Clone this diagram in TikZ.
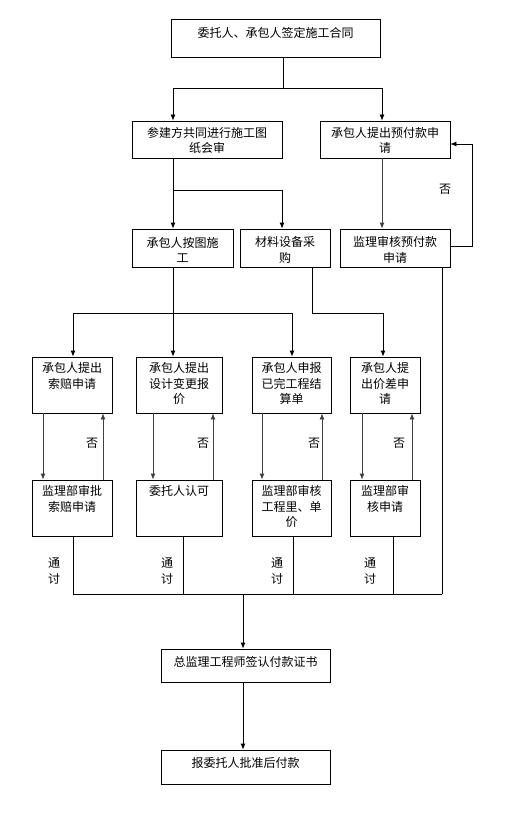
\documentclass[tikz,border=0pt]{standalone}
\usepackage{fontspec}
\newfontfamily\cjk{Noto Sans CJK SC}
\usetikzlibrary{arrows.meta}
\tikzset{
  box/.style={draw, line width=0.8pt, inner sep=0pt},
  txt/.style={font=\cjk\fontsize{12}{15.5}\selectfont, align=center, inner sep=0pt},
  ln/.style={line width=0.8pt},
  arr/.style={line width=0.8pt, -{Latex[length=6pt,width=5pt]}},
  garr/.style={line width=0.8pt, black!75, -{Latex[length=6pt,width=5pt]}},
}
\begin{document}
\begin{tikzpicture}[x=1pt,y=-1pt]
\useasboundingbox (0,0) rectangle (506,813);
% boxes
\node[box, minimum width=209pt, minimum height=38pt] (T) at (275.5,38) {};
\node[box, minimum width=150pt, minimum height=37pt] (A) at (207,139.5) {};
\node[box, minimum width=130pt, minimum height=37pt] (B) at (385,139.5) {};
\node[box, minimum width=101pt, minimum height=38pt] (C) at (182.5,248) {};
\node[box, minimum width=90pt, minimum height=38pt] (D) at (285,248) {};
\node[box, minimum width=110pt, minimum height=38pt] (E) at (395,248) {};
\node[box, minimum width=80pt, minimum height=56pt] (P1) at (72,385) {};
\node[box, minimum width=86pt, minimum height=56pt] (P2) at (179,385) {};
\node[box, minimum width=79pt, minimum height=56pt] (P3) at (291.5,385) {};
\node[box, minimum width=70pt, minimum height=56pt] (P4) at (385,385) {};
\node[box, minimum width=80pt, minimum height=56pt] (Q1) at (72,508) {};
\node[box, minimum width=86pt, minimum height=56pt] (Q2) at (179,508) {};
\node[box, minimum width=79pt, minimum height=56pt] (Q3) at (291.5,508) {};
\node[box, minimum width=70pt, minimum height=56pt] (Q4) at (385,508) {};
\node[box, minimum width=169pt, minimum height=33pt] (F) at (245.5,665.5) {};
\node[box, minimum width=169pt, minimum height=34pt] (G) at (245.5,767) {};
% texts
\node[txt] (Tt) at (275.5,33) {委托人、承包人签定施工合同};
\node[txt] (At) at (207,140.5) {参建方共同进行施工图\\纸会审};
\node[txt] (Bt) at (385,140.5) {承包人提出预付款申\\请};
\node[txt] (Ct) at (182.5,250) {承包人按图施\\工};
\node[txt] (Dt) at (285,250) {材料设备采\\购};
\node[txt] (Et) at (395,250) {监理审核预付款\\申请};
\node[txt, anchor=north] (P1t) at ([yshift=-6pt]P1.north) {承包人提出\\索赔申请};
\node[txt, anchor=north] (P2t) at ([yshift=-6pt]P2.north) {承包人提出\\设计变更报\\价};
\node[txt, anchor=north] (P3t) at ([yshift=-6pt]P3.north) {承包人申报\\已完工程结\\算单};
\node[txt, anchor=north] (P4t) at ([yshift=-6pt]P4.north) {承包人提\\出价差申\\请};
\node[txt, anchor=north] (Q1t) at ([yshift=-6pt]Q1.north) {监理部审批\\索赔申请};
\node[txt, anchor=north] (Q2t) at ([yshift=-6pt]Q2.north) {委托人认可};
\node[txt, anchor=north] (Q3t) at ([yshift=-6pt]Q3.north) {监理部审核\\工程里、单\\价};
\node[txt, anchor=north] (Q4t) at ([yshift=-6pt]Q4.north) {监理部审\\核申请};
\node[txt] (Ft) at (245.5,662) {总监理工程师签认付款证书};
\node[txt] (Gt) at (245.5,763) {报委托人批准后付款};
% labels
\node[txt] (n0) at (445,189) {否};
\node[txt] (n1) at (92,443) {否};
\node[txt] (n2) at (203,443) {否};
\node[txt] (n3) at (314,443) {否};
\node[txt] (n4) at (399,443) {否};
\node[txt] (g1) at (54,571) {通\\讨};
\node[txt] (g2) at (167,571) {通\\讨};
\node[txt] (g3) at (277,571) {通\\讨};
\node[txt] (g4) at (370,571) {通\\讨};
% coordinates
\coordinate (j1) at (283,88);
\coordinate (jL) at (173,88);
\coordinate (jR) at (382,88);
\coordinate (jA) at (173,190);
\coordinate (jA2) at (282,190);
\coordinate (jC) at (173,313);
\coordinate (jC1) at (73,313);
\coordinate (jC3) at (292,313);
\coordinate (jD) at (312,313);
\coordinate (jD4) at (383,313);
\coordinate (fb1) at (472,246);
\coordinate (fb2) at (472,144);
\coordinate (bl) at (73,594);
\coordinate (bm) at (243,594);
\coordinate (br) at (442,594);
% connectors top
\draw[ln] (T.south -| j1) -- (j1);
\draw[ln] (jL) -- (jR);
\draw[arr] (jL) -- (A.north -| jL);
\draw[arr] (jR) -- (B.north -| jR);
\draw[arr] (A.south -| jA) -- (C.north -| jA);
\draw[ln] (jA) -- (jA2);
\draw[arr] (jA2) -- (D.north -| jA2);
\draw[garr] (B.south -| jR) -- (E.north -| jR);
\draw[arr] (E.east |- fb1) -- (fb1) -- (fb2) -- (B.east |- fb2);
% to row 3
\draw[arr] (C.south -| jC) -- (P2.north -| jC);
\draw[ln] (jC1) -- (jC3);
\draw[arr] (jC1) -- (P1.north -| jC1);
\draw[arr] (jC3) -- (P3.north -| jC3);
\draw[ln] (D.south -| jD) -- (jD) -- (jD4);
\draw[arr] (jD4) -- (P4.north -| jD4);
\draw[ln] (E.south -| br) -- (br);
% row 3 <-> row 4
\draw[garr] (P1.south -| 43,0) -- (Q1.north -| 43,0);
\draw[garr] (Q1.north -| 103,0) -- (P1.south -| 103,0);
\draw[garr] (P2.south -| 153,0) -- (Q2.north -| 153,0);
\draw[garr] (Q2.north -| 213,0) -- (P2.south -| 213,0);
\draw[garr] (P3.south -| 262,0) -- (Q3.north -| 262,0);
\draw[garr] (Q3.north -| 322,0) -- (P3.south -| 322,0);
\draw[garr] (P4.south -| 362,0) -- (Q4.north -| 362,0);
\draw[garr] (Q4.north -| 412,0) -- (P4.south -| 412,0);
% row 4 to bottom
\draw[ln] (Q1.south -| 73,0) -- (73,594);
\draw[ln] (Q2.south -| 183,0) -- (183,594);
\draw[ln] (Q3.south -| 293,0) -- (293,594);
\draw[ln] (Q4.south -| 393,0) -- (393,594);
\draw[ln] (bl) -- (br);
\draw[arr] (bm) -- (F.north -| bm);
\draw[arr] (F.south -| bm) -- (G.north -| bm);
\end{tikzpicture}
\end{document}
